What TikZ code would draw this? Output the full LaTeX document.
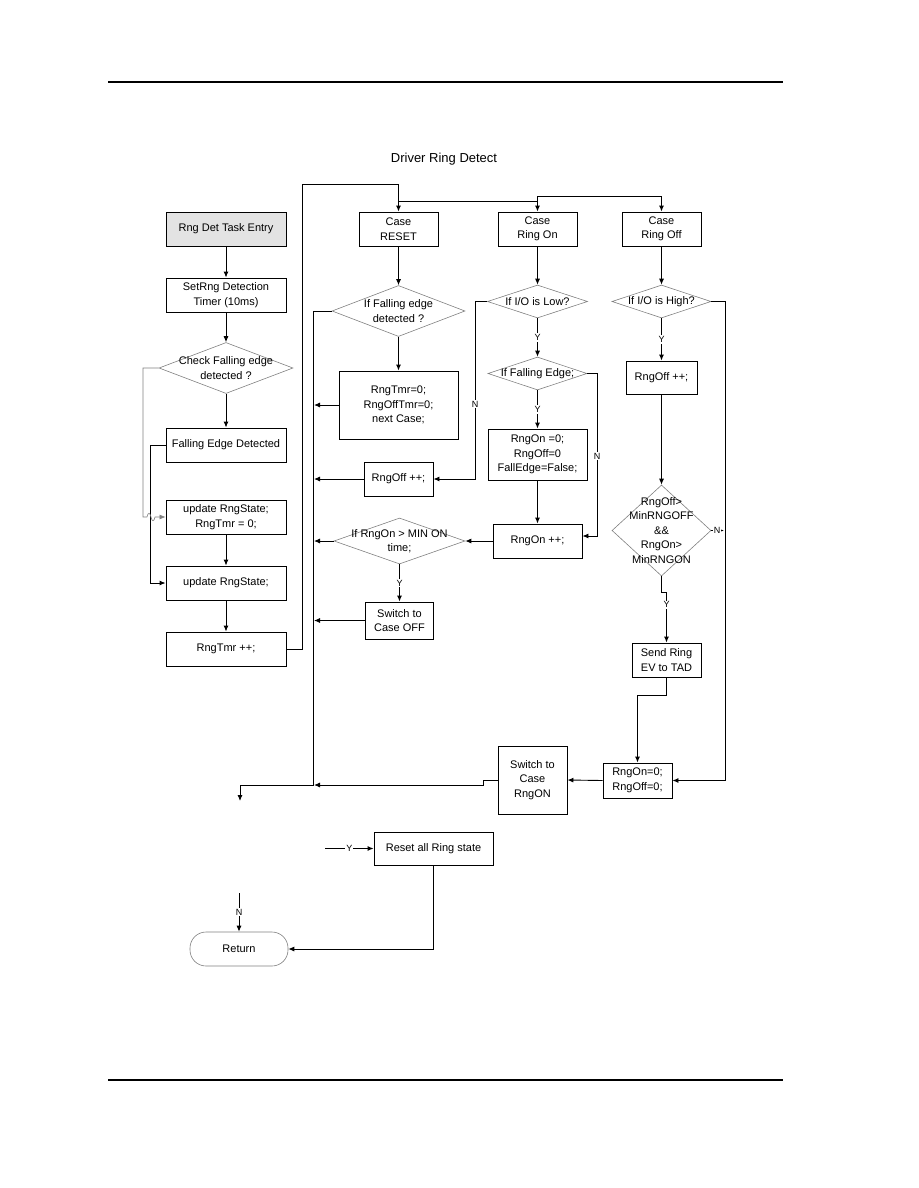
\documentclass[tikz,border=0pt]{standalone}
\usepackage{fontspec}
\setmainfont{Liberation Sans}
\usetikzlibrary{arrows.meta,shapes.geometric}
\tikzset{
  box/.style={draw, line width=0.9pt, inner sep=0pt, align=center, font=\fontsize{11}{14.5}\selectfont},
  dia/.style={draw=black!50, line width=0.6pt, diamond, inner sep=0pt},
  dtext/.style={align=center, inner sep=0pt, font=\fontsize{11}{14.5}\selectfont},
  conn/.style={line width=0.9pt},
  arr/.style={line width=0.9pt, -{Latex[length=6pt,width=5pt]}},
  lbl/.style={fill=white, inner sep=1pt, font=\fontsize{9}{10}\selectfont},
  rule/.style={line width=2.8pt}
}
\begin{document}
\begin{tikzpicture}[x=1pt,y=-1pt]
\useasboundingbox (0,0) rectangle (918,1188);
% page rules and title
\draw[rule] (108,82) coordinate (hl) -- (783,82) coordinate (hr);
\draw[rule] (108,1080) coordinate (fl) -- (783,1080) coordinate (fr);
\node[font=\fontsize{13}{15}\selectfont] (title) at (444,159) {Driver Ring Detect};

% left column
\node[box, fill=black!11, minimum width=120pt, minimum height=34pt] (entry) at (226,229) {Rng Det Task Entry};
\node[box, minimum width=120pt, minimum height=34pt] (setrng) at (226,295) {SetRng Detection\\Timer (10ms)};
\node[dia, minimum width=134pt, minimum height=51pt] (d1) at (226,368) {};
\node[dtext] (d1t) at (d1.center) {Check Falling edge\\detected ?};
\node[box, minimum width=120pt, minimum height=34pt] (fed) at (226,445) {Falling Edge Detected};
\node[box, minimum width=120pt, minimum height=34pt] (upd1) at (226,517) {update RngState;\\RngTmr = 0;};
\node[box, minimum width=120pt, minimum height=34pt] (upd2) at (226,583) {update RngState;};
\node[box, minimum width=120pt, minimum height=34pt] (tmr) at (226,649) {RngTmr ++;};

% middle column
\node[box, minimum width=79pt, minimum height=34pt] (reset) at (398.5,229) {Case\\RESET};
\node[dia, minimum width=133pt, minimum height=51pt] (d2) at (398.5,311) {};
\node[dtext] (d2t) at (d2.center) {If Falling edge\\detected ?};
\node[box, minimum width=119pt, minimum height=68pt] (rtmr) at (398.5,405) {RngTmr=0;\\RngOffTmr=0;\\next Case;};
\node[box, minimum width=69pt, minimum height=34pt] (roff) at (398.5,479) {RngOff ++;};
\node[dia, minimum width=131pt, minimum height=46pt] (d3) at (399.5,541) {};
\node[dtext] (d3t) at (d3.center) {If RngOn > MIN ON\\time;};
\node[box, minimum width=68pt, minimum height=37pt] (swoff) at (399.5,620.5) {Switch to\\Case OFF};

% ring on column
\node[box, minimum width=79pt, minimum height=34pt] (ringon) at (537.5,229) {Case\\Ring On};
\node[dia, minimum width=100pt, minimum height=33pt] (d4) at (537.5,301.5) {};
\node[dtext] (d4t) at (d4.center) {If I/O is Low?};
\node[dia, minimum width=99pt, minimum height=33pt] (d5) at (537.5,373.5) {};
\node[dtext] (d5t) at (d5.center) {If Falling Edge;};
\node[box, minimum width=99pt, minimum height=51pt] (ron0) at (537.5,454.5) {RngOn =0;\\RngOff=0\\FallEdge=False;};
\node[box, minimum width=89pt, minimum height=34pt] (ronpp) at (537.5,541) {RngOn ++;};

% ring off column
\node[box, minimum width=79pt, minimum height=34pt] (ringoff) at (661.5,229) {Case\\Ring Off};
\node[dia, minimum width=99pt, minimum height=33pt] (d6) at (661.5,301.5) {};
\node[dtext] (d6t) at (d6.center) {If I/O is High?};
\node[box, minimum width=71pt, minimum height=33pt] (roffpp) at (661.5,377.5) {RngOff ++;};
\node[dia, minimum width=99pt, minimum height=91pt] (d7) at (661.5,530.5) {};
\node[dtext] (d7t) at (d7.center) {RngOff>\\MinRNGOFF\\\&\&\\RngOn>\\MinRNGON};
\node[box, minimum width=69pt, minimum height=34pt] (send) at (666.5,660) {Send Ring\\EV to TAD};
\node[box, minimum width=69pt, minimum height=35pt] (rzero) at (637.5,780.5) {RngOn=0;\\RngOff=0;};
\node[box, minimum width=69pt, minimum height=68pt] (swon) at (532.5,780) {Switch to\\Case\\RngON};

% bottom
\node[box, minimum width=119pt, minimum height=33pt] (resetall) at (433.5,848.5) {Reset all Ring state};
\node[draw=black!50, line width=0.6pt, rounded corners=16pt, minimum width=98pt, minimum height=34pt, inner sep=0pt, font=\fontsize{11}{14.5}\selectfont] (ret) at (239,949) {Return};

% coordinates
\coordinate (busx) at (314,0);
\coordinate (bend) at (240,785);
\coordinate (endA) at (240,801);
\coordinate (nstart) at (239,893);
\coordinate (ystart) at (325,848.5);

% left column connectors
\draw[arr] (entry) -- (setrng);
\draw[arr] (setrng) -- (d1.north);
\draw[arr] (d1.south) -- (fed);
\draw[arr] (upd1) -- (upd2);
\draw[arr] (upd2) -- (tmr);
\draw[arr] (fed.west) -- ++(-15,0) |- (upd2.west);
\draw[line width=0.6pt, draw=black!50, -{Latex[length=6pt,width=5pt]}] (d1.west) -- (143,368) -- (143,517) -- (147,517) .. controls (148,512) and (150,512) .. (151,517) .. controls (152,522) and (154,522) .. (155,517) -- (upd1.west);
\draw[arr] (tmr.east) -| (302,184) -| (reset.north);
\draw[arr] (398.5,201) -| (ringon.north);
\draw[arr] (537.5,201) -- (537.5,196) -| (ringoff.north);

% middle connectors
\draw[arr] (reset) -- (d2.north);
\draw[arr] (d2.south) -- (rtmr);
\draw[conn] (d2.west) -- (313,311) -- (313,785) -- (bend);
\draw[arr] (bend) -- (endA);
\draw[arr] (rtmr.west) -- (rtmr.west -| busx);
\draw[arr] (roff.west) -- (roff.west -| busx);
\draw[arr] (d3.west) -- (d3.west -| busx);
\draw[arr] (swoff.west) -- (swoff.west -| busx);
\draw[arr] (d3.south) -- node[lbl] {Y} (swoff);

% ring on connectors
\draw[arr] (ringon) -- (d4.north);
\draw[arr] (d4.south) -- node[lbl] {Y} (d5.north);
\draw[arr] (d5.south) -- node[lbl] {Y} (ron0);
\draw[arr] (ron0) -- (ronpp);
\draw[arr] (ronpp.west) -- (d3.east);
\draw[arr] (d4.west) -| (475,479) -- (roff.east);
\node[lbl] (n1) at (475,404) {N};
\draw[arr] (d5.east) -| (597,536) -- ([yshift=5pt]ronpp.east);
\node[lbl] (n2) at (597,456) {N};

% ring off connectors
\draw[arr] (ringoff) -- (d6.north);
\draw[arr] (d6.south) -- node[lbl] {Y} (roffpp);
\draw[arr] (roffpp) -- (d7.north);
\draw[arr] (d6.east) -| (725,780.5) -- (rzero.east);
\draw[arr] (d7.east) -- node[lbl, inner sep=0.5pt, pos=0.45] {N} (724,530.5);
\draw[arr] (d7.south) -- (661.5,592) -- (666.5,592) -- node[lbl, pos=0.25] {Y} (send.north);
\draw[arr] (send.south) -- (666.5,695) -| (rzero.north);
\draw[arr] (rzero.west) -- (swon.east);
\draw[arr] (swon.west) -- (483,780) -- (483,785) -- (314,785);

% bottom connectors
\draw[arr] (nstart) -- node[lbl] {N} (ret.north);
\draw[arr] (ystart) -- node[lbl] {Y} (resetall.west);
\draw[arr] (resetall.south) |- (ret.east);
\end{tikzpicture}
\end{document}
